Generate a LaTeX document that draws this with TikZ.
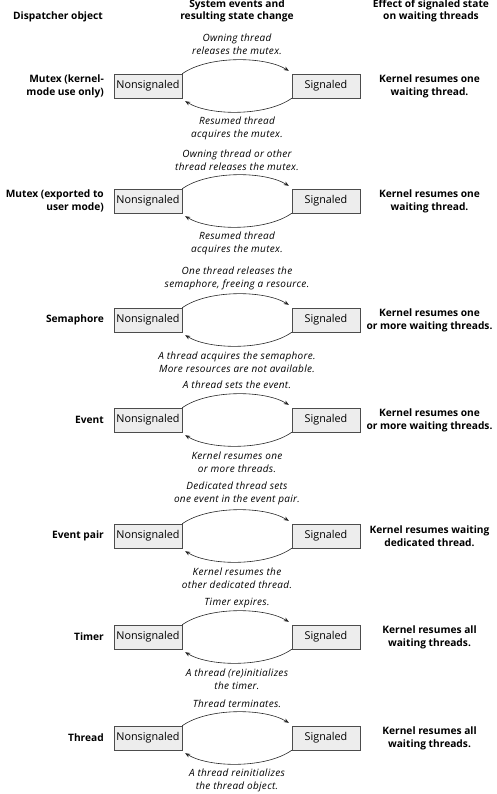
\documentclass[tikz,border=0pt]{standalone}
\usepackage{fontspec}
\setmainfont{Open Sans}
\newfontfamily\evfont[LetterSpace=3]{Open Sans}
\usetikzlibrary{arrows.meta}
\tikzset{
  box/.style={draw=black!70, fill=black!7, minimum width=68pt, minimum height=24pt, inner sep=0pt, font=\fontsize{10.8}{12}\selectfont},
  obj/.style={font=\bfseries\fontsize{10.2}{13}\selectfont, align=right, anchor=east, inner sep=0pt},
  eff/.style={font=\bfseries\fontsize{10.2}{13}\selectfont, align=center, inner sep=0pt},
  ev/.style={font=\evfont\itshape\fontsize{10}{13}\selectfont, align=center, inner sep=0pt},
  hdr/.style={font=\bfseries\fontsize{10.2}{12}\selectfont, align=center, inner sep=0pt},
  arr/.style={-{Stealth[length=5pt,width=4pt]}, black!85, line width=0.6pt},
}
% #1 id, #2 y, #3 object, #4 effect, #5 top text, #6 top offset, #7 bottom text
\newcommand\staterow[7]{%
  \node[box] (ns#1) at (148,#2) {Nonsignaled};
  \node[box] (s#1) at (326,#2) {Signaled};
  \node[obj] (o#1) at (104,#2) {#3};
  \node[eff] (e#1) at (429.5,#2) {#4};
  \draw[arr] (ns#1.north east) .. controls +(25,-18) and +(-25,-15) .. ([shift={(-3,-3)}]s#1.north west);
  \draw[arr] (s#1.south west) .. controls +(-25,18) and +(25,15) .. ([shift={(3,3)}]ns#1.south east);
  \node[ev] (t#1) at (237,#2-#6) {#5};
  \node[ev] (b#1) at (237,#2+42) {#7};
}
\begin{document}
\begin{tikzpicture}[x=1pt,y=-1pt]
\useasboundingbox (0,0) rectangle (497,794);
\node[hdr, anchor=east] (h1) at (103,17) {Dispatcher object};
\node[hdr] (h2) at (237,11) {System events and\\resulting state change};
\node[hdr] (h3) at (431,11) {Effect of signaled state\\on waiting threads};

\staterow{1}{86}{Mutex (kernel-\\mode use only)}{Kernel resumes one\\waiting thread.}{Owning thread\\releases the mutex.}{42}{Resumed thread\\acquires the mutex.}
\staterow{2}{201}{Mutex (exported to\\user mode)}{Kernel resumes one\\waiting thread.}{Owning thread or other\\thread releases the mutex.}{41}{Resumed thread\\acquires the mutex.}
\staterow{3}{320}{Semaphore}{Kernel resumes one\\or more waiting threads.}{One thread releases the\\semaphore, freeing a resource.}{41.5}{A thread acquires the semaphore.\\More resources are not available.}
\staterow{4}{420}{Event}{Kernel resumes one\\or more waiting threads.}{A thread sets the event.}{35}{Kernel resumes one\\or more threads.}
\staterow{5}{536}{Event pair}{Kernel resumes waiting\\dedicated thread.}{Dedicated thread sets\\one event in the event pair.}{42.5}{Kernel resumes the\\other dedicated thread.}
\staterow{6}{637}{Timer}{Kernel resumes all\\waiting threads.}{Timer expires.}{34}{A thread (re)initializes\\the timer.}
\staterow{7}{738}{Thread}{Kernel resumes all\\waiting threads.}{Thread terminates.}{34}{A thread reinitializes\\the thread object.}
\end{tikzpicture}
\end{document}
